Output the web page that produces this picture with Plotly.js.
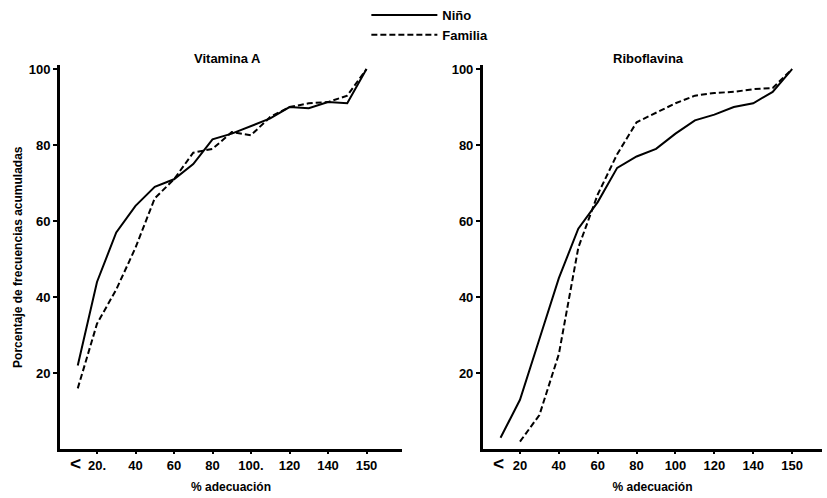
<!DOCTYPE html>
<html><head><meta charset="utf-8">
<script src="https://cdn.plot.ly/plotly-3.0.1.min.js"></script>
<style>html,body{margin:0;padding:0;background:#fff;}#chart{width:827px;height:498px;}</style>
</head><body><div id="chart"></div>
<script>
// x positions of the adequacy classes (the last class is labelled "150")
const xPos = [10,20,30,40,50,60,70,80,90,100,110,120,130,140,150,160];
const xTickVals = [20,40,60,80,100,120,140,160];
const leftTickText = ["20.","40","60","80","100.","120","140","150"];
const rightTickText = ["20","40","60","80","100","120","140","150"];
const yTickVals = [20,40,60,80,100];

const vitANino    = [22,44,57,64,69,71,75,81.5,83,85,87,90,89.7,91.3,91,100];
const vitAFamilia = [16,33,42,53,66,71,78,79,83.4,82.6,87.4,90,91,91.3,93,100];
const riboNino    = [3,13,29,45,58,65,74,77,79,83,86.5,88,90,91,94,100];
const riboFamilia = [null,2,9,25,53,67,77.6,86,88.5,91,93,93.7,94,94.7,95,100];

const seriesNames = ["Niño","Familia"];
const panelTitles = ["Vitamina A","Riboflavina"];
const xTitle = "% adecuación";
const yTitle = "Porcentaje de frecuencias acumuladas";

const FONT = "Liberation Sans, Arial, sans-serif";
const solid = {color:"#000", width:2};
const dashed = {color:"#000", width:2, dash:"6px,3px"};

const traces = [
  {x:xPos, y:vitANino, mode:"lines", line:solid, name:seriesNames[0], xaxis:"x", yaxis:"y", legendrank:1},
  {x:xPos, y:vitAFamilia, mode:"lines", line:dashed, name:seriesNames[1], xaxis:"x", yaxis:"y", legendrank:2},
  {x:xPos, y:riboNino, mode:"lines", line:solid, name:seriesNames[0], xaxis:"x2", yaxis:"y2", showlegend:false},
  {x:xPos, y:riboFamilia, mode:"lines", line:dashed, name:seriesNames[1], xaxis:"x2", yaxis:"y2", showlegend:false, connectgaps:false}
];

const tickFont = {family:FONT, size:13, color:"#000", weight:"bold"};
function xAxis(domain, range, ticktext){
  return {domain:domain, range:range, tickvals:xTickVals, ticktext:ticktext,
    showline:true, linecolor:"#000", linewidth:3, ticks:"outside", ticklen:2, tickwidth:2, tickcolor:"#000",
    showgrid:false, zeroline:false, tickfont:tickFont, ticklabelstandoff:0,
    title:{text:xTitle, font:{family:FONT, size:12, color:"#000", weight:"bold"}, standoff:11}};
}
function yAxis(anchor){
  return {domain:[0.098,0.869], range:[0,101], tickvals:yTickVals, anchor:anchor,
    showline:true, linecolor:"#000", linewidth:3, ticks:"outside", ticklen:4, tickwidth:2, tickcolor:"#000",
    showgrid:false, zeroline:false, tickfont:tickFont, ticklabelstandoff:0};
}

const layout = {
  width:827, height:498,
  margin:{l:0,r:0,t:0,b:0},
  paper_bgcolor:"#fff", plot_bgcolor:"#fff",
  font:{family:FONT, color:"#000"},
  showlegend:true,
  legend:{x:0.443, y:1.0, xanchor:"left", yanchor:"top", bgcolor:"rgba(0,0,0,0)",
    font:{family:FONT, size:13, color:"#000", weight:"bold"}, itemwidth:66, tracegroupgap:0},
  xaxis: xAxis([0.0726,0.486],[0.8,178.4],leftTickText),
  yaxis: Object.assign(yAxis("x"), {title:{text:yTitle, font:{family:FONT, size:12, color:"#000", weight:"bold"}, standoff:4}}),
  xaxis2: Object.assign(xAxis([0.584,0.994],[0.96,175.4],rightTickText), {anchor:"y2"}),
  yaxis2: yAxis("x2"),
  annotations:[
    {text:panelTitles[0], xref:"paper", yref:"paper", x:227/827, y:1-58/498, xanchor:"center", yanchor:"middle", showarrow:false,
      font:{family:FONT, size:13, color:"#000", weight:"bold"}},
    {text:panelTitles[1], xref:"paper", yref:"paper", x:648/827, y:1-58/498, xanchor:"center", yanchor:"middle", showarrow:false,
      font:{family:FONT, size:13, color:"#000", weight:"bold"}},
    {text:"&lt;", xref:"x", yref:"paper", x:8.6, y:1-463/498, xanchor:"center", yanchor:"middle", showarrow:false,
      font:{family:FONT, size:19, color:"#000", weight:"bold"}},
    {text:"&lt;", xref:"x2", yref:"paper", x:8.7, y:1-463/498, xanchor:"center", yanchor:"middle", showarrow:false,
      font:{family:FONT, size:19, color:"#000", weight:"bold"}}
  ]
};

Plotly.newPlot("chart", traces, layout, {staticPlot:true, displayModeBar:false});
</script></body></html>
